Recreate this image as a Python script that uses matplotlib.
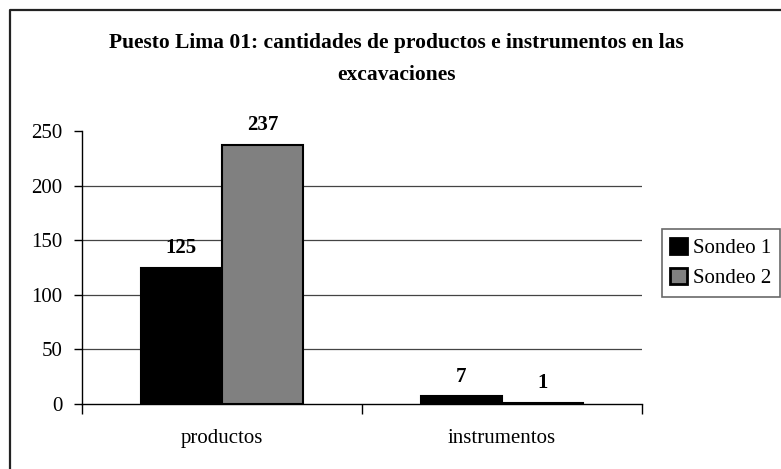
import matplotlib
matplotlib.use("Agg")
import matplotlib.pyplot as plt
from matplotlib.lines import Line2D
import numpy as np

categories = ["productos", "instrumentos"]
series_names = ["Sondeo 1", "Sondeo 2"]
sondeo1 = [125, 7]
sondeo2 = [237, 1]
yticks = [0, 50, 100, 150, 200, 250]
title_lines = ["Puesto Lima 01: cantidades de productos e instrumentos en las", "excavaciones"]

plt.rcParams['font.family'] = ['Liberation Serif', 'DejaVu Serif']

W, H = 781, 469
fig = plt.figure(figsize=(W / 100, H / 100), dpi=100)
ax = fig.add_axes([82 / W, 1 - 404 / H, 560 / W, 273 / H])

x = np.arange(len(categories))
bw = 0.29
b1 = ax.bar(x - bw / 2, sondeo1, bw, color='black', edgecolor='black', linewidth=1.5, label=series_names[0], zorder=3)
b2 = ax.bar(x + bw / 2, sondeo2, bw, color='#808080', edgecolor='black', linewidth=1.5, label=series_names[1], zorder=3)

for bars, vals in ((b1, sondeo1), (b2, sondeo2)):
    for r, v in zip(bars, vals):
        ax.annotate(str(v), (r.get_x() + r.get_width() / 2, v), xytext=(0, 7),
                    textcoords='offset points', ha='center', va='bottom',
                    fontsize=15, fontweight='bold')

ax.set_xlim(-0.5, 1.5)
ax.set_ylim(0, 250)
ax.set_yticks(yticks)
ax.set_yticklabels([str(t) for t in yticks])
for t in yticks[1:-1]:
    ax.axhline(t, color='#444444', linewidth=0.9, zorder=1)

ax.set_xticks([-0.5, 0.5, 1.5], minor=False)
ax.set_xticklabels(['', '', ''])
ax.set_xticks(x, minor=True)
ax.set_xticklabels(categories, minor=True)
ax.tick_params(axis='x', which='major', length=7, width=1, direction='out')
ax.tick_params(axis='x', which='minor', length=0, pad=18, labelsize=15)
ax.tick_params(axis='y', length=6, width=1, direction='out', pad=8, labelsize=15)

for s in ['top', 'right']:
    ax.spines[s].set_visible(False)
ax.spines['left'].set_linewidth(1)
ax.spines['bottom'].set_linewidth(1)

for line, yc in zip(title_lines, (43, 75)):
    fig.text(396 / W, 1 - yc / H, line, ha='center', va='center', fontsize=15.5,
             fontweight='bold')

leg = fig.legend(handles=[b1, b2], labels=series_names, loc='center',
                 bbox_to_anchor=(721 / W, 1 - 263 / H), fontsize=15, frameon=True,
                 fancybox=False, edgecolor='#444444', handlelength=0.8, handleheight=0.8,
                 handletextpad=0.3, borderpad=0.4, labelspacing=0.5, borderaxespad=0)
leg.get_frame().set_linewidth(1.2)
for h in leg.legend_handles:
    h.set_linewidth(2)

fig.add_artist(Line2D([10 / W, 10 / W, 1], [0, 1 - 10 / H, 1 - 10 / H],
                      color='#222222', linewidth=1.6))

fig.savefig('out.png', dpi=100, facecolor='white')
